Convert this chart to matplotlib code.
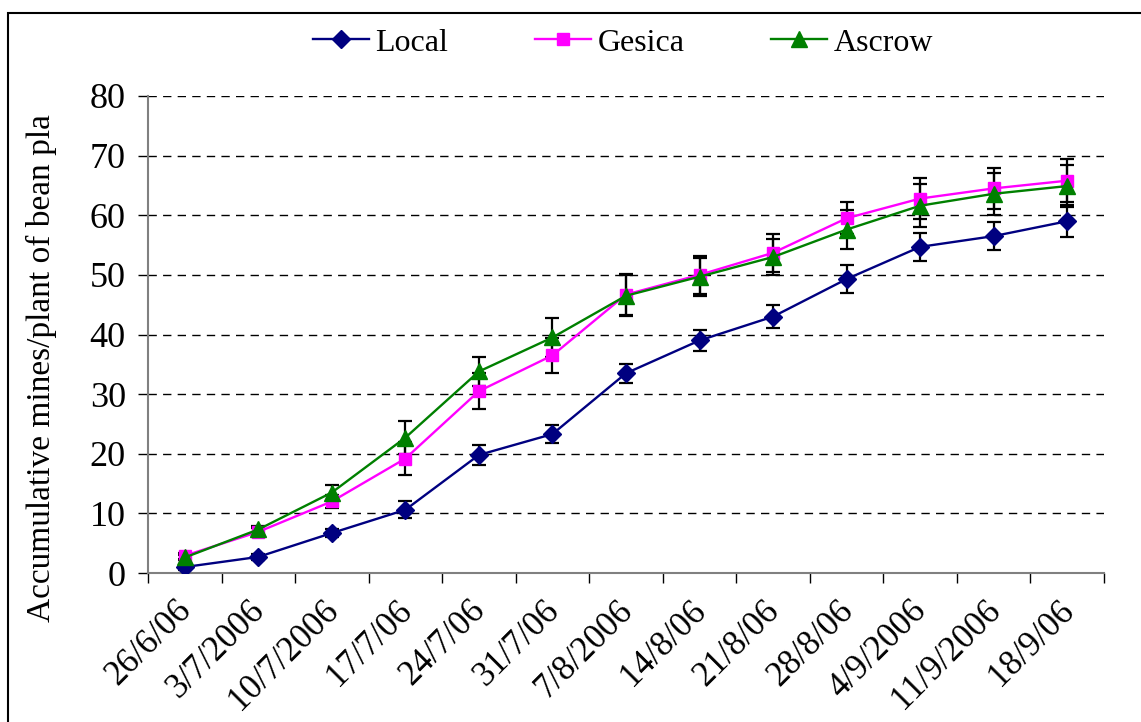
import matplotlib.pyplot as plt
import matplotlib
import matplotlib.transforms as mtransforms
from matplotlib.patches import Rectangle

matplotlib.rc('font', family='Liberation Serif')
matplotlib.rc('xtick', labelsize=25)
matplotlib.rc('ytick', labelsize=26)

dates = ["26/6/06", "3/7/2006", "10/7/2006", "17/7/06", "24/7/06", "31/7/06",
         "7/8/2006", "14/8/06", "21/8/06", "28/8/06", "4/9/2006", "11/9/2006",
         "18/9/06"]

local = [1.0, 2.7, 6.7, 10.6, 19.8, 23.3, 33.5, 39.0, 43.0, 49.3, 54.7, 56.5, 59.0]
local_err = [0.5, 0.5, 0.7, 1.4, 1.7, 1.5, 1.6, 1.8, 1.9, 2.3, 2.4, 2.3, 2.7]

gesica = [2.9, 6.9, 12.0, 19.2, 30.5, 36.5, 46.7, 50.0, 53.7, 59.5, 62.8, 64.5, 65.8]
gesica_err = [0.5, 0.6, 1.1, 2.7, 3.0, 2.9, 3.4, 3.2, 3.2, 2.7, 3.4, 3.5, 3.6]

ascrow = [2.6, 7.3, 13.5, 22.7, 33.8, 39.5, 46.5, 49.7, 53.0, 57.6, 61.6, 63.6, 64.9]
ascrow_err = [0.5, 0.6, 1.2, 2.8, 2.4, 3.3, 3.4, 3.2, 3.0, 3.2, 3.6, 3.5, 3.6]

x = list(range(len(dates)))

fig = plt.figure(figsize=(11.41, 7.22), dpi=100)
ax = fig.add_axes([148/1141, 1-573/722, 956/1141, 477/722])

# outer frame (only top and left edges fall inside the figure)
fig.patches.append(Rectangle((8/1141, -0.1), 1.2, 1.1 - 13/722,
                             transform=fig.transFigure, fill=False,
                             edgecolor='black', linewidth=1.5))

series = [
    ("Local", local, local_err, '#000080', 'D', 9),
    ("Gesica", gesica, gesica_err, '#FF00FF', 's', 9),
    ("Ascrow", ascrow, ascrow_err, '#008000', '^', 11),
]
for name, vals, err, col, mk, ms in series:
    ax.errorbar(x, vals, yerr=err, fmt='none', ecolor='black', elinewidth=1.6,
                capsize=4.7, capthick=1.6, zorder=2)
    ax.plot(x, vals, color=col, marker=mk, markersize=ms, linewidth=1.7,
            label=name, zorder=3)

ax.set_xlim(-0.5, len(dates) - 0.5)
ax.set_ylim(0, 80)
ax.set_yticks(range(0, 81, 10))
ax.yaxis.grid(True, linestyle=(0, (6, 4.5)), color='black', linewidth=1)
ax.set_axisbelow(True)

ax.set_xticks([i - 0.5 for i in range(len(dates) + 1)])
ax.set_xticklabels([])
ax.set_xticks(x, minor=True)
ax.set_xticklabels(dates, minor=True, rotation=45, ha='right',
                   rotation_mode='anchor')
ax.tick_params(axis='x', which='major', direction='out', length=7, width=1, color='black')
ax.tick_params(axis='x', which='minor', length=0, pad=15)
ax.tick_params(axis='y', direction='out', length=7, width=1, color='black', pad=9)

# nudge the rotated date labels a little to the left
shift = mtransforms.ScaledTranslation(-10/100, 0, fig.dpi_scale_trans)
for lbl in ax.get_xticklabels(minor=True):
    lbl.set_transform(lbl.get_transform() + shift)

for s in ['top', 'right']:
    ax.spines[s].set_visible(False)
for s in ['left', 'bottom']:
    ax.spines[s].set_color('#808080')
    ax.spines[s].set_linewidth(1.5)

ax.set_ylabel("Accumulative mines/plant of bean pla", fontsize=24)
ax.yaxis.set_label_coords(-0.095, 0.43)

fig.legend(loc='center', bbox_to_anchor=(623/1141, 1-43/722), ncol=3,
           frameon=False, fontsize=23, handlelength=1.75, columnspacing=2.7,
           handletextpad=0.22)

fig.savefig("out.png", dpi=100)
